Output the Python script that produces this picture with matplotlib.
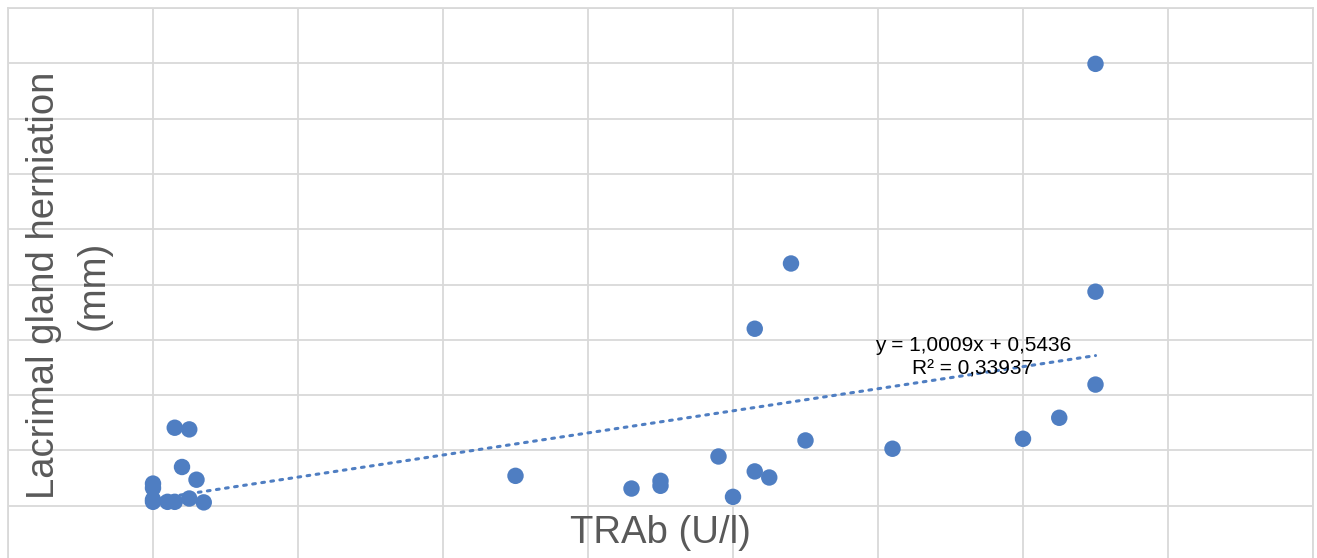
import numpy as np
import matplotlib.pyplot as plt

# Дані
trab = [0, 0, 0, 0, 0.2, 0.3, 0.5, 0.7, 0.3, 0.5, 0.4, 0.6,
        5.0, 6.6, 7.0, 7.0, 7.8, 8.0, 8.3, 8.5, 9.0, 8.3, 8.8,
        10.2, 12.0, 12.5, 13.0, 13.0, 13.0]
herniation = [2.0, 1.6, 0.55, 0.35, 0.35, 0.35, 0.65, 0.3, 7.05, 6.9, 3.5, 2.35,
              2.7, 1.55, 2.25, 1.8, 4.45, 0.8, 3.1, 2.55, 5.9, 16.0, 21.9,
              5.15, 6.05, 7.95, 10.95, 19.35, 39.95]
equation = 'y = 1,0009x + 0,5436\nR² = 0,33937'

blue = '#4f7ec2'
grid_col = '#d9d9d9'
label_col = '#595959'

plt.rcParams['font.family'] = ['Liberation Sans', 'DejaVu Sans']

fig = plt.figure(figsize=(13.17, 5.58), dpi=100)
ax = fig.add_axes([8 / 1317, -3 / 558, 1305 / 1317, 553 / 558])

ax.scatter(trab, herniation, s=140, color=blue, edgecolors='none', zorder=3)

# Лінія тренду
x = np.array(trab)
y = np.array(herniation)
k, b = np.polyfit(x, y, 1)
xs = np.array([x.min(), x.max()])
ax.plot(xs, k * xs + b, color=blue, linewidth=2.2, linestyle=(0, (0.9, 2.1)),
        dash_capstyle='round', zorder=2)

ax.set_xlim(-2, 16)
ax.set_ylim(-5, 45)
ax.set_xticks(np.arange(-2, 17, 2))
ax.set_yticks(np.arange(-5, 46, 5))
ax.tick_params(length=0, labelbottom=False, labelleft=False)
ax.grid(True, color=grid_col, linewidth=1.3)
ax.set_axisbelow(True)
for sp in ax.spines.values():
    sp.set_color(grid_col)
    sp.set_linewidth(1.3)

fig.text(973 / 1317, 1 - 357 / 558, equation, ha='center', va='center',
         fontsize=15, color='black', linespacing=1.3)

fig.text(69 / 1317, 1 - 285 / 558, 'Lacrimal gland herniation\n(mm)', rotation=90,
         ha='center', va='center', multialignment='center',
         fontsize=27.5, color=label_col, linespacing=1.5)
fig.text(660 / 1317, 1 - 533 / 558, 'TRAb (U/l)', ha='center', va='center',
         fontsize=27.5, color=label_col)

fig.savefig('out.png', dpi=100)
